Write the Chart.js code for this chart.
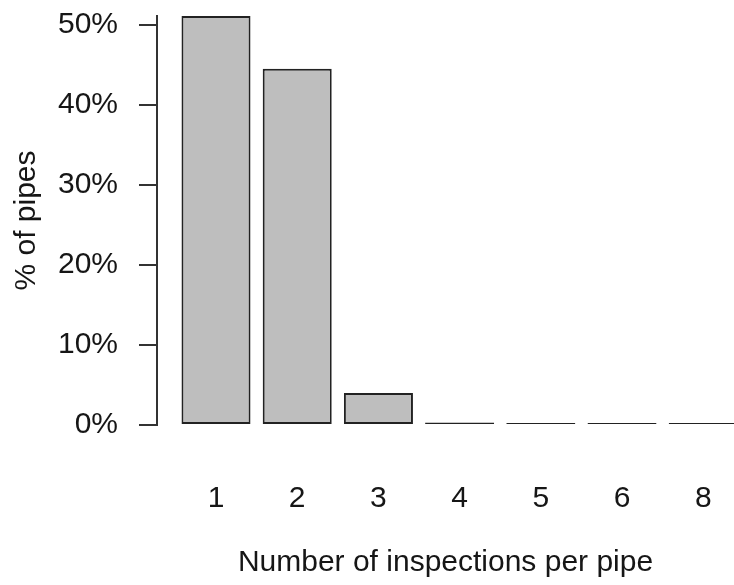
<!DOCTYPE html>
<html>
<head>
<meta charset="utf-8">
<script src="https://cdn.jsdelivr.net/npm/chart.js@4/dist/chart.umd.min.js"></script>
<style>
  html, body { margin: 0; padding: 0; background: #fff; overflow: hidden; }
</style>
</head>
<body>
<canvas id="grafico" width="734" height="585"></canvas>
<script>
const categorias = ['1', '2', '3', '4', '5', '6', '8'];
const percentuais = [51.1, 44.5, 4.0, 0.3, 0.02, 0.01, 0.01];
const ticksY = [0, 10, 20, 30, 40, 50];

const fonte = { family: "'Liberation Sans', Arial, sans-serif", size: 30 };
const corTexto = '#161616';
const corEixo = '#333333';

new Chart(document.getElementById('grafico'), {
  type: 'bar',
  data: {
    datasets: [{
      data: percentuais.map((v, i) => ({ x: i + 1, y: v })),
      backgroundColor: '#bebebe',
      borderColor: '#222222',
      borderWidth: 2,
      borderSkipped: false,
      minBarLength: 2,
      barPercentage: 0.85,
      categoryPercentage: 1
    }]
  },
  options: {
    responsive: false,
    animation: false,
    layout: { padding: { top: 16, left: 0, right: 0, bottom: 0 } },
    plugins: {
      legend: { display: false },
      tooltip: { enabled: false }
    },
    scales: {
      x: {
        type: 'linear',
        offset: false,
        min: 0.2734,
        max: 7.379,
        afterFit: s => { s.height = 160; s.paddingLeft = 0; s.paddingRight = 0; },
        afterBuildTicks: s => { s.ticks = categorias.map((_, i) => ({ value: i + 1 })); },
        grid: { display: false },
        border: { display: false },
        ticks: {
          padding: 48,
          color: corTexto,
          font: fonte,
          maxRotation: 0,
          autoSkip: false,
          callback: v => categorias[v - 1]
        },
        title: {
          display: true,
          text: 'Number of inspections per pipe',
          color: corTexto,
          font: fonte,
          padding: { top: 0, bottom: 4 }
        }
      },
      y: {
        min: 0,
        max: 51.1,
        afterFit: s => { s.width = 157; s.paddingTop = 0; s.paddingBottom = 0; },
        afterBuildTicks: s => { s.ticks = ticksY.map(v => ({ value: v })); },
        grid: {
          drawOnChartArea: false,
          drawTicks: true,
          tickLength: 18,
          color: corEixo,
          lineWidth: 2
        },
        border: { display: true, color: corEixo, width: 2 },
        ticks: {
          padding: 21,
          color: corTexto,
          font: fonte,
          callback: v => v + '%'
        },
        title: {
          display: true,
          text: '% of pipes',
          color: corTexto,
          font: fonte,
          padding: { top: 9, bottom: 0 }
        }
      }
    }
  }
});
</script>
</body>
</html>
